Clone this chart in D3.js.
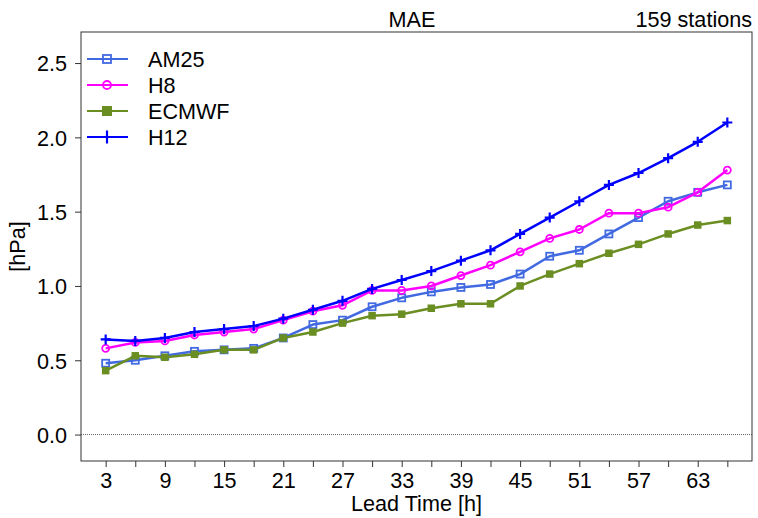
<!DOCTYPE html>
<html><head><meta charset="utf-8">
<script src="https://cdn.jsdelivr.net/npm/d3@7"></script>
<style>body{margin:0;background:#fff}svg{display:block}text{font-family:"Liberation Sans",Arial,sans-serif;fill:#000}</style>
</head><body><svg id="c" width="758" height="518"></svg>
<script>
const hours = [3,6,9,12,15,18,21,24,27,30,33,36,39,42,45,48,51,54,57,60,63,66];
const AM25  = [0.48,0.50,0.53,0.56,0.57,0.58,0.65,0.74,0.77,0.86,0.92,0.96,0.99,1.01,1.08,1.20,1.24,1.35,1.46,1.57,1.63,1.68];
const H8    = [0.58,0.62,0.63,0.67,0.69,0.71,0.77,0.83,0.87,0.97,0.97,1.00,1.07,1.14,1.23,1.32,1.38,1.49,1.49,1.53,1.63,1.78];
const ECMWF = [0.43,0.53,0.52,0.54,0.57,0.57,0.65,0.69,0.75,0.80,0.81,0.85,0.88,0.88,1.00,1.08,1.15,1.22,1.28,1.35,1.41,1.44];
const H12   = [0.64,0.63,0.65,0.69,0.71,0.73,0.78,0.84,0.90,0.98,1.04,1.10,1.17,1.24,1.35,1.46,1.57,1.68,1.76,1.86,1.97,2.10];
const seriesNames = ["AM25","H8","ECMWF","H12"];
const xTickLabels = [3,9,15,21,27,33,39,45,51,57,63];
const xMinorTicks = [6,12,18,24,30,36,42,48,54,60,66];
const yTickLabels = [0.0,0.5,1.0,1.5,2.0,2.5];
const titleText = "MAE", stationsText = "159 stations";
const xLabel = "Lead Time [h]", yLabel = "[hPa]";

const series = [
  {name:"AM25", values:AM25, color:"#4169E1", marker:"osq"},
  {name:"H8", values:H8, color:"#FF00FF", marker:"ocirc"},
  {name:"ECMWF", values:ECMWF, color:"#6B8E23", marker:"fsq"},
  {name:"H12", values:H12, color:"#0000FF", marker:"plus"}
];

const L=81, R=752, T=32, B=461;
const FS = "21.6px";
const svg = d3.select("#c");
const x = d3.scaleLinear().domain([0.5,68.5]).range([L,R]);
const y = d3.scaleLinear().domain([-0.178,2.709]).range([B,T]);

// zero line
svg.append("line").attr("x1",L).attr("x2",R).attr("y1",y(0)).attr("y2",y(0))
  .attr("stroke","#666").attr("stroke-width",1).attr("stroke-dasharray","1,1");

// axes
const yAxis = d3.axisLeft(y).tickValues(yTickLabels).tickFormat(d3.format(".1f")).tickSize(6).tickPadding(8);
const gy = svg.append("g").attr("transform",`translate(${L},0)`).call(yAxis);
gy.select(".domain").remove();
gy.selectAll("text").style("font-size",FS).attr("dy","0.36em");
gy.selectAll("line").attr("stroke","#333");

const xAxis = d3.axisBottom(x).tickValues(xTickLabels).tickFormat(d3.format("d")).tickSize(6).tickPadding(6);
const gx = svg.append("g").attr("transform",`translate(0,${B})`).call(xAxis);
gx.select(".domain").remove();
gx.selectAll("text").style("font-size",FS);
gx.selectAll("line").attr("stroke","#333");
const gxm = svg.append("g").attr("transform",`translate(0,${B})`)
  .call(d3.axisBottom(x).tickValues(xMinorTicks).tickFormat("").tickSize(6));
gxm.select(".domain").remove();
gxm.selectAll("line").attr("stroke","#333");

// frame
svg.append("rect").attr("x",L).attr("y",T).attr("width",R-L).attr("height",B-T)
  .attr("fill","none").attr("stroke","#333").attr("stroke-width",1);

function drawMarker(g, type, cx, cy, color, s){
  if(type==="osq") g.append("rect").attr("x",cx-s/2).attr("y",cy-s/2).attr("width",s).attr("height",s)
      .attr("fill","none").attr("stroke",color).attr("stroke-width",1.8);
  else if(type==="fsq") g.append("rect").attr("x",cx-s/2).attr("y",cy-s/2).attr("width",s).attr("height",s)
      .attr("fill",color).attr("stroke","none");
  else if(type==="ocirc") g.append("circle").attr("cx",cx).attr("cy",cy).attr("r",s/2)
      .attr("fill","none").attr("stroke",color).attr("stroke-width",1.8);
  else if(type==="plus") g.append("path").attr("d",`M${cx-s/2},${cy}H${cx+s/2}M${cx},${cy-s/2}V${cy+s/2}`)
      .attr("stroke",color).attr("stroke-width",2.2).attr("fill","none");
}

const line = d3.line().x((d,i)=>x(hours[i])).y(d=>y(d));
const msize = {osq:7, fsq:7.5, ocirc:7, plus:10};
series.forEach(s=>{
  const g = svg.append("g");
  g.append("path").datum(s.values).attr("d",line).attr("fill","none")
    .attr("stroke",s.color).attr("stroke-width",2.5).attr("stroke-linejoin","round");
  s.values.forEach((v,i)=>drawMarker(g,s.marker,x(hours[i]),y(v),s.color,msize[s.marker]));
});

// legend
const lsize = {osq:8, fsq:10, ocirc:8, plus:13};
series.forEach((s,i)=>{
  const cy = 59 + i*26;
  const g = svg.append("g");
  g.append("line").attr("x1",87).attr("x2",128).attr("y1",cy).attr("y2",cy)
    .attr("stroke",s.color).attr("stroke-width",1.8);
  drawMarker(g,s.marker,107,cy,s.color,lsize[s.marker]);
  g.append("text").attr("x",148).attr("y",cy).attr("dy","0.36em").style("font-size",FS).text(s.name);
});

// titles
svg.append("text").attr("x",412).attr("y",27).attr("text-anchor","middle").style("font-size",FS).text(titleText);
svg.append("text").attr("x",752).attr("y",27).attr("text-anchor","end").style("font-size",FS).text(stationsText);
svg.append("text").attr("x",(L+R)/2).attr("y",511).attr("text-anchor","middle").style("font-size",FS).text(xLabel);
svg.append("text").attr("transform",`translate(25,${(T+B)/2}) rotate(-90)`).attr("text-anchor","middle").style("font-size",FS).text(yLabel);
</script></body></html>
